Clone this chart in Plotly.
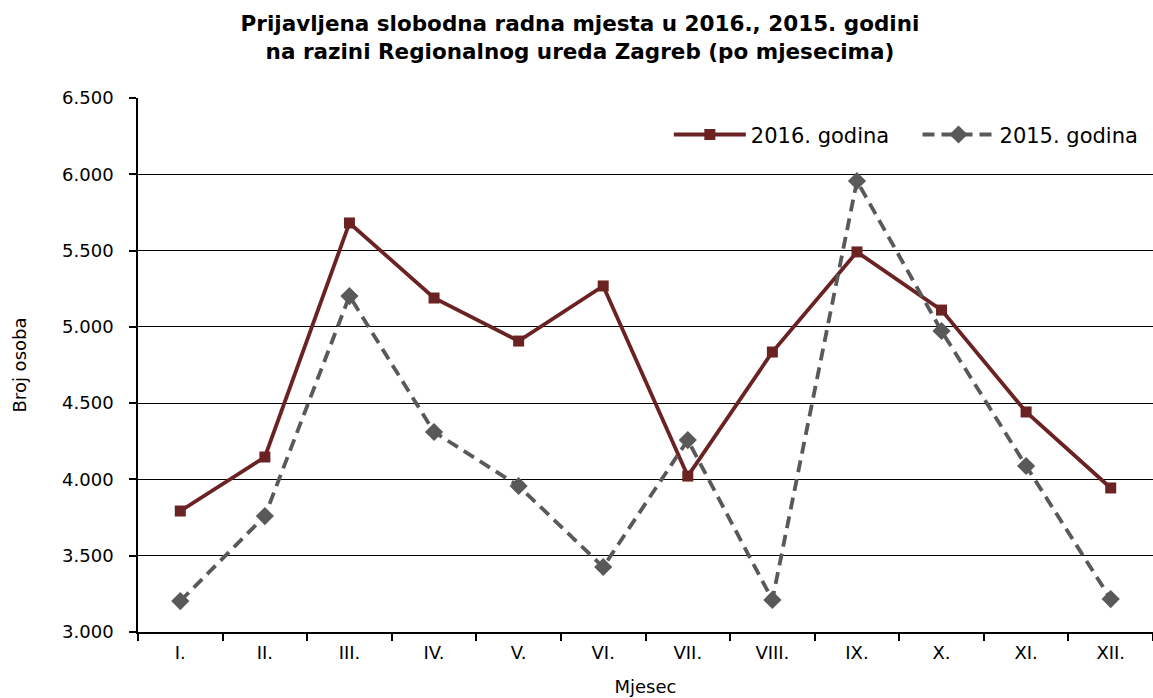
import plotly.graph_objects as go

months = ["I.", "II.", "III.", "IV.", "V.", "VI.", "VII.", "VIII.", "IX.", "X.", "XI.", "XII."]
y2016 = [3793, 4147, 5681, 5189, 4907, 5268, 4022, 4835, 5491, 5110, 4442, 3944]
y2015 = [3203, 3760, 5202, 4311, 3957, 3426, 4258, 3210, 5956, 4973, 4088, 3216]

font_family = "DejaVu Sans, Liberation Sans, Arial, sans-serif"
c2016 = "#6B2222"
c2015 = "#595959"

fig = go.Figure()
fig.add_trace(go.Scatter(
    x=months, y=y2016, name="2016. godina", mode="lines+markers",
    line=dict(color=c2016, width=3.8),
    marker=dict(symbol="square", size=11, color=c2016),
    legend="legend",
))
fig.add_trace(go.Scatter(
    x=months, y=y2015, name="2015. godina", mode="lines+markers",
    line=dict(color=c2015, width=3.8, dash="12px,7px"),
    marker=dict(symbol="diamond", size=14, color=c2015),
    legend="legend2",
))

legend_common = dict(
    orientation="h", xanchor="left", y=0.931, yanchor="middle",
    bgcolor="rgba(0,0,0,0)", font=dict(size=21), itemwidth=72,
)

fig.update_layout(
    width=1153, height=698,
    margin=dict(l=138, r=0, t=98, b=66, autoexpand=False),
    paper_bgcolor="white", plot_bgcolor="white",
    separators=",.",
    font=dict(family=font_family, color="black", size=18),
    title=dict(
        text="<b>Prijavljena slobodna radna mjesta u 2016., 2015. godini<br>na razini Regionalnog ureda Zagreb (po mjesecima)</b>",
        x=0.503, xanchor="center", y=0.955, yanchor="top",
        font=dict(size=21.5, family=font_family, color="black"),
    ),
    legend=dict(x=0.523, **legend_common),
    legend2=dict(x=0.768, **legend_common),
    showlegend=True,
)

fig.update_xaxes(
    type="category", range=[-0.5, 11.5],
    showline=True, linecolor="black", linewidth=1.5,
    ticks="outside", tickson="boundaries", ticklen=7, tickcolor="black", tickwidth=1.5,
    ticklabelstandoff=4,
    showgrid=False,
    title=dict(text="Mjesec", font=dict(size=18), standoff=18),
    tickfont=dict(size=18),
)
fig.update_yaxes(
    range=[3000, 6500], dtick=500, tick0=3000,
    tickformat=",.0f",
    showline=True, linecolor="black", linewidth=1.5,
    ticks="outside", ticklen=7, tickcolor="black", tickwidth=1.5,
    ticklabelstandoff=12,
    showgrid=True, gridcolor="black", gridwidth=1,
    zeroline=False,
    title=dict(text="Broj osoba", font=dict(size=18), standoff=31),
    tickfont=dict(size=18),
)

fig.write_html(
    "out.html",
    config={"displayModeBar": False},
    post_script="document.body.style.margin='0';document.body.style.overflow='hidden';",
)
